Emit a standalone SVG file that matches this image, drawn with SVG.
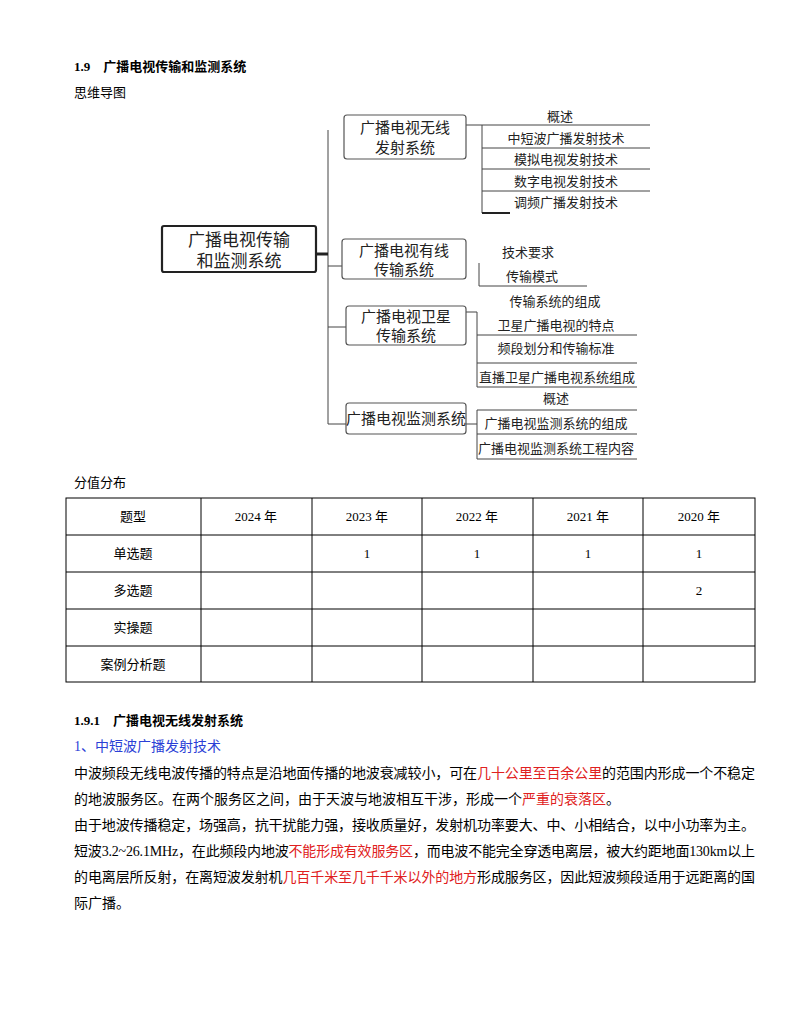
<svg xmlns="http://www.w3.org/2000/svg" width="800" height="1035" viewBox="0 0 800 1035">
<style>
text{font-family:"Liberation Serif","Noto Sans CJK SC",serif;fill:#000}
.h{font-weight:bold;font-size:13px}
.p{font-size:14px}
.m{font-size:13px;text-anchor:middle;fill:#222}
.b{font-size:15px;text-anchor:middle;fill:#222}
.box{fill:#fff;stroke:#555;stroke-width:1.2}
.ln{stroke:#444;stroke-width:1;fill:none}
.t{font-size:13px;text-anchor:middle}
.red{fill:#e02020}
.grid{stroke:#000;stroke-width:1;fill:none}
</style>
<rect width="800" height="1035" fill="#fff"/>
<text class="h" x="74" y="71">1.9　广播电视传输和监测系统</text>
<text class="p" x="74" y="97" style="font-size:13px">思维导图</text>
<g id="connectors">
<path class="ln" d="M328,130 V424 H346"/>
<path d="M316,254 H328" stroke="#222" stroke-width="3"/>
<path class="ln" d="M328,266 H342 M328,327 H346"/>
<path class="ln" d="M466,125 H482 V213 M482,125 H650 M482,148 H650 M482,169 H650 M482,191 H650"/>
<path d="M482,213 H510" stroke="#222" stroke-width="2"/>
<path class="ln" d="M479,263 V286 H587"/>
<path class="ln" d="M466,312 H477 V387 M477,335 H637 M477,363 H637 M477,387 H637"/>
<path class="ln" d="M466,424 H477 M477,410 V459 M477,410 H637 M477,434 H637 M477,459 H637"/>
</g>
<g id="root"><rect x="162" y="226" width="154" height="46" rx="2" fill="#fff" stroke="#222" stroke-width="2.2"/>
<text class="b" x="239" y="246" style="font-size:17px">广播电视传输</text><text class="b" x="239" y="267" style="font-size:17px">和监测系统</text></g>
<g id="n1"><rect class="box" x="344" y="115" width="122" height="44" rx="3"/>
<text class="b" x="405" y="133">广播电视无线</text><text class="b" x="405" y="153">发射系统</text></g>
<g id="n2"><rect class="box" x="342" y="239" width="124" height="40" rx="3"/>
<text class="b" x="404" y="256">广播电视有线</text><text class="b" x="404" y="275">传输系统</text></g>
<g id="n3"><rect class="box" x="346" y="306" width="120" height="39" rx="3"/>
<text class="b" x="406" y="322">广播电视卫星</text><text class="b" x="406" y="341">传输系统</text></g>
<g id="n4"><rect class="box" x="346" y="403" width="120" height="31" rx="3"/>
<text class="b" x="406" y="424">广播电视监测系统</text></g>
<g id="leaves">
<text class="m" x="560" y="121">概述</text>
<text class="m" x="566" y="143">中短波广播发射技术</text>
<text class="m" x="566" y="164">模拟电视发射技术</text>
<text class="m" x="566" y="186">数字电视发射技术</text>
<text class="m" x="566" y="207">调频广播发射技术</text>
<text class="m" x="528" y="257">技术要求</text>
<text class="m" x="532" y="281">传输模式</text>
<text class="m" x="555" y="306">传输系统的组成</text>
<text class="m" x="556" y="330">卫星广播电视的特点</text>
<text class="m" x="556" y="353">频段划分和传输标准</text>
<text class="m" x="557" y="382">直播卫星广播电视系统组成</text>
<text class="m" x="556" y="403">概述</text>
<text class="m" x="556" y="428">广播电视监测系统的组成</text>
<text class="m" x="556" y="453">广播电视监测系统工程内容</text>
</g>
<text class="p" x="74" y="487" style="font-size:13px">分值分布</text>
<g id="table">
<rect class="grid" x="66" y="498" width="689" height="184"/>
<path class="grid" d="M66,535 H755 M66,572 H755 M66,609 H755 M66,646 H755 M201,498 V682 M312,498 V682 M422,498 V682 M533,498 V682 M643,498 V682"/>
<text class="t" x="133" y="521">题型</text>
<text class="t" x="256" y="521">2024 年</text><text class="t" x="367" y="521">2023 年</text><text class="t" x="477" y="521">2022 年</text><text class="t" x="588" y="521">2021 年</text><text class="t" x="699" y="521">2020 年</text>
<text class="t" x="133" y="558">单选题</text>
<text class="t" x="367" y="558">1</text><text class="t" x="477" y="558">1</text><text class="t" x="588" y="558">1</text><text class="t" x="699" y="558">1</text>
<text class="t" x="133" y="595">多选题</text><text class="t" x="699" y="595">2</text>
<text class="t" x="133" y="632">实操题</text>
<text class="t" x="133" y="669">案例分析题</text>
</g>
<text class="h" x="74" y="725">1.9.1　广播电视无线发射系统</text>
<text class="p" x="74" y="751" style="fill:#2b3fd6">1、中短波广播发射技术</text>
<text class="p" x="74" y="778" textLength="681" lengthAdjust="spacing">中波频段无线电波传播的特点是沿地面传播的地波衰减较小，可在<tspan class="red">几十公里至百余公里</tspan>的范围内形成一个不稳定</text>
<text class="p" x="74" y="804">的地波服务区。在两个服务区之间，由于天波与地波相互干涉，形成一个<tspan class="red">严重的衰落区</tspan>。</text>
<text class="p" x="74" y="830" textLength="681" lengthAdjust="spacing">由于地波传播稳定，场强高，抗干扰能力强，接收质量好，发射机功率要大、中、小相结合，以中小功率为主。</text>
<text class="p" x="74" y="856" textLength="681" lengthAdjust="spacing">短波3.2~26.1MHz，在此频段内地波<tspan class="red">不能形成有效服务区</tspan>，而电波不能完全穿透电离层，被大约距地面130km以上</text>
<text class="p" x="74" y="882" textLength="681" lengthAdjust="spacing">的电离层所反射，在离短波发射机<tspan class="red">几百千米至几千千米以外的地方</tspan>形成服务区，因此短波频段适用于远距离的国</text>
<text class="p" x="74" y="908">际广播。</text>
</svg>
